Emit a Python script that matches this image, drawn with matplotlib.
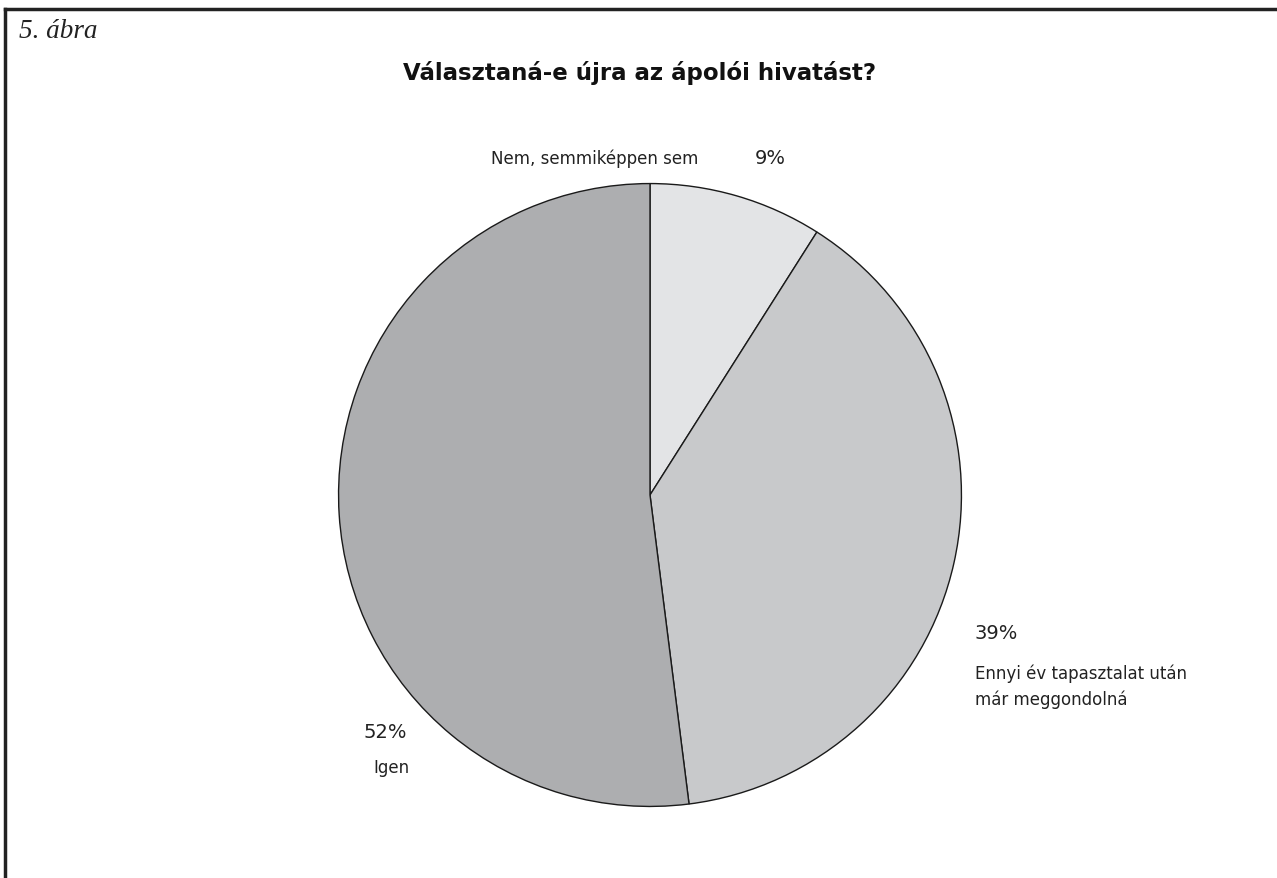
import matplotlib.pyplot as plt
from matplotlib.lines import Line2D

categories = ["Nem, semmiképpen sem", "Ennyi év tapasztalat után\nmár meggondolná", "Igen"]
shares = [9, 39, 52]
pct_labels = ["9%", "39%", "52%"]
colors = ["#e3e4e6", "#c8c9cb", "#adaeb0"]

W, H = 1277, 879
fig = plt.figure(figsize=(W / 100, H / 100), dpi=100)


def fx(px):
    return px / W


def fy(py):
    return 1 - py / H


# frame (top and left edges only, as cropped in the original)
fig.add_artist(Line2D([fx(5), fx(W)], [fy(10), fy(10)], color="#222222", lw=2.5))
fig.add_artist(Line2D([fx(5), fx(5)], [fy(10), fy(H)], color="#222222", lw=2.5))

fig.text(fx(19), fy(31), "5. ábra", family="Liberation Serif", style="italic",
         fontsize=19.5, ha="left", va="center", color="#222222")
fig.text(fx(640), fy(73), "Választaná-e újra az ápolói hivatást?", fontsize=16.5,
         fontweight="bold", ha="center", va="center", color="#111111")

cx, cy, r = 650, 496, 313
ax = fig.add_axes([fx(cx - r), fy(cy + r), 2 * r / W, 2 * r / H])
ax.pie(shares, colors=colors, startangle=90, counterclock=False, radius=1,
       wedgeprops=dict(edgecolor="#1a1a1a", linewidth=1.0))
ax.set_xlim(-1.005, 1.005)
ax.set_ylim(-1.005, 1.005)
ax.set_aspect("equal")
ax.axis("off")

lab_kw = dict(fontsize=12, color="#222222", family="DejaVu Sans")
pct_kw = dict(fontsize=14, color="#222222", family="DejaVu Sans")
fig.text(fx(491), fy(159), categories[0], ha="left", va="center", **lab_kw)
fig.text(fx(770), fy(159), pct_labels[0], ha="center", va="center", **pct_kw)
fig.text(fx(975), fy(634), pct_labels[1], ha="left", va="center", **pct_kw)
fig.text(fx(975), fy(687), categories[1], ha="left", va="center", linespacing=1.55, **lab_kw)
fig.text(fx(385), fy(733), pct_labels[2], ha="center", va="center", **pct_kw)
fig.text(fx(373), fy(768), categories[2], ha="left", va="center", **lab_kw)

fig.savefig("out.png", dpi=100, facecolor="white")
